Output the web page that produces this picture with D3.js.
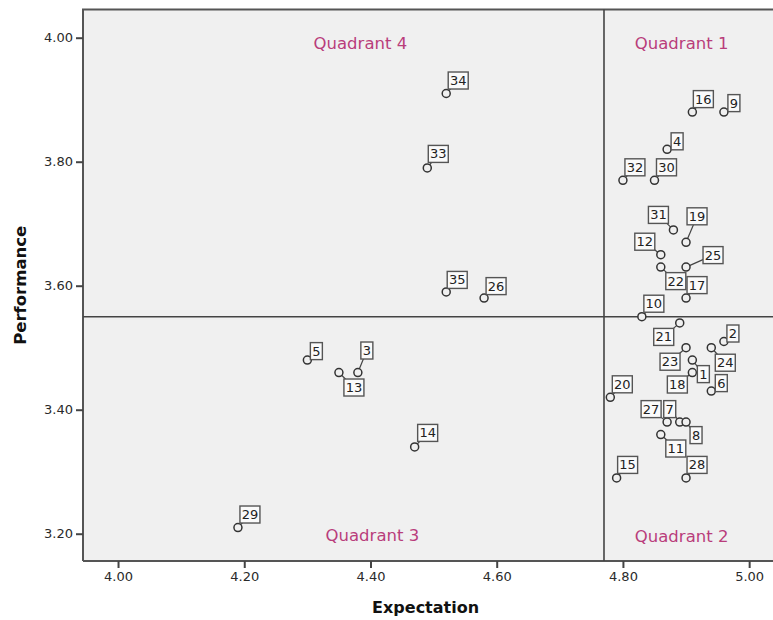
<!DOCTYPE html>
<html>
<head>
<meta charset="utf-8">
<script src="https://cdn.jsdelivr.net/npm/d3@7"></script>
<style>
  body { margin: 0; background: #fff; }
  svg { display: block; }
</style>
</head>
<body>
<svg id="chart" width="773" height="620"></svg>
<script>
// ---- data ----
const ids         = [1, 2, 3, 4, 5, 6, 7, 8, 9, 10, 11, 12, 13, 14, 15, 16, 17, 18, 19, 20, 21, 22, 23, 24, 25, 26, 27, 28, 29, 30, 31, 32, 33, 34, 35];
const expectation = [4.91, 4.96, 4.38, 4.87, 4.30, 4.94, 4.89, 4.90, 4.96, 4.83, 4.86, 4.86, 4.35, 4.47, 4.79, 4.91, 4.90, 4.91, 4.90, 4.78, 4.89, 4.86, 4.90, 4.94, 4.90, 4.58, 4.87, 4.90, 4.19, 4.85, 4.88, 4.80, 4.49, 4.52, 4.52];
const performance = [3.48, 3.51, 3.46, 3.82, 3.48, 3.43, 3.38, 3.38, 3.88, 3.55, 3.36, 3.65, 3.46, 3.34, 3.29, 3.88, 3.58, 3.46, 3.67, 3.42, 3.54, 3.63, 3.50, 3.50, 3.63, 3.58, 3.38, 3.29, 3.21, 3.77, 3.69, 3.77, 3.79, 3.91, 3.59];
// label placement offsets (px, label centre relative to point)
const labelDx = [11, 9, 9, 10, 9, 10, -10, 10, 10, 12, 15, -16, 15, 13, 11, 11, 11, -15, 11, 12, -16, 15, -16, 14, 27, 12, -16, 11, 12, 12, -15, 12, 11, 12, 11];
const labelDy = [14, -8, -22, -8, -9, -8, -13, 13, -9, -13, 14, -13, 15, -14, -13, -13, -13, 12, -26, -13, 14, 14, 14, 15, -12, -12, -13, -13, -13, -13, -15, -13, -14, -13, -12];
const xTicks = [4.00, 4.20, 4.40, 4.60, 4.80, 5.00];
const yTicks = [3.20, 3.40, 3.60, 3.80, 4.00];
const xDomain = [3.9445, 5.04];
const yDomain = [3.156, 4.0455];
const xCut = 4.77;   // mean expectation
const yCut = 3.55;   // mean performance
const quadNames = ["Quadrant 1", "Quadrant 2", "Quadrant 3", "Quadrant 4"];
const quadX = [4.893, 4.893, 4.403, 4.384];
const quadY = [3.991, 3.195, 3.197, 3.991];
const xTitle = "Expectation";
const yTitle = "Performance";

// ---- layout ----
const svg = d3.select("#chart");
const pLeft = 83, pRight = 774.4, pTop = 9.5, pBottom = 561;
const x = d3.scaleLinear().domain(xDomain).range([pLeft, pRight]);
const y = d3.scaleLinear().domain(yDomain).range([pBottom, pTop]);

// plot background
svg.append("rect")
  .attr("x", pLeft).attr("y", pTop)
  .attr("width", 800).attr("height", pBottom - pTop)
  .attr("fill", "#f0f0f0");

// border lines (left, top, bottom)
svg.append("path")
  .attr("d", `M${pLeft},${pBottom}V${pTop}H800M${pLeft},${pBottom}H800`)
  .attr("fill", "none").attr("stroke", "#555").attr("stroke-width", 2);

// axes
const fmt = d3.format(".2f");
const xAxis = svg.append("g")
  .attr("transform", `translate(0,${pBottom})`)
  .call(d3.axisBottom(x).tickValues(xTicks).tickFormat(fmt).tickSize(7).tickPadding(4));
const yAxis = svg.append("g")
  .attr("transform", `translate(${pLeft},0)`)
  .call(d3.axisLeft(y).tickValues(yTicks).tickFormat(fmt).tickSize(7).tickPadding(3));
[xAxis, yAxis].forEach(g => {
  g.select(".domain").remove();
  g.attr("font-size", null).attr("font-family", null);
  g.selectAll(".tick line").attr("stroke", "#444").attr("stroke-width", 2);
  g.selectAll(".tick text")
    .attr("fill", "#2a2a2a")
    .style("font-family", "'DejaVu Sans', sans-serif")
    .style("font-size", "13px");
});

// reference lines
svg.append("line")
  .attr("x1", x(xCut)).attr("x2", x(xCut))
  .attr("y1", pTop).attr("y2", pBottom)
  .attr("stroke", "#444").attr("stroke-width", 1.6);
svg.append("line")
  .attr("x1", pLeft).attr("x2", 800)
  .attr("y1", y(yCut)).attr("y2", y(yCut))
  .attr("stroke", "#444").attr("stroke-width", 1.6);

// quadrant labels
svg.selectAll("text.quad")
  .data(quadNames)
  .join("text")
  .attr("class", "quad")
  .attr("x", (d, i) => x(quadX[i]))
  .attr("y", (d, i) => y(quadY[i]))
  .attr("text-anchor", "middle")
  .attr("dominant-baseline", "central")
  .attr("fill", "#b93d7b")
  .style("font-family", "'DejaVu Sans', sans-serif")
  .style("font-size", "16.5px")
  .text(d => d);

// points
const pts = ids.map((id, i) => ({
  id, ex: expectation[i], pf: performance[i], dx: labelDx[i], dy: labelDy[i]
}));

const g = svg.append("g");
// leader lines
g.selectAll("line.lead")
  .data(pts)
  .join("line")
  .attr("class", "lead")
  .attr("x1", d => x(d.ex)).attr("y1", d => y(d.pf))
  .attr("x2", d => x(d.ex) + d.dx).attr("y2", d => y(d.pf) + d.dy)
  .attr("stroke", "#444").attr("stroke-width", 1.2);

g.selectAll("circle.pt")
  .data(pts)
  .join("circle")
  .attr("class", "pt")
  .attr("cx", d => x(d.ex)).attr("cy", d => y(d.pf))
  .attr("r", 4)
  .attr("fill", "#f0f0f0")
  .attr("stroke", "#333").attr("stroke-width", 1.5);

// label boxes
const lab = g.selectAll("g.lab")
  .data(pts)
  .join("g")
  .attr("class", "lab")
  .attr("transform", d => `translate(${x(d.ex) + d.dx},${y(d.pf) + d.dy})`);
lab.append("rect")
  .attr("x", d => String(d.id).length > 1 ? -10 : -6)
  .attr("y", -8.5)
  .attr("width", d => String(d.id).length > 1 ? 20 : 12)
  .attr("height", 17)
  .attr("fill", "#fafafa")
  .attr("stroke", "#555").attr("stroke-width", 1.4);
lab.append("text")
  .attr("text-anchor", "middle")
  .attr("dominant-baseline", "central")
  .attr("fill", "#222")
  .style("font-family", "'DejaVu Sans', sans-serif")
  .style("font-size", "13px")
  .text(d => d.id);

// axis titles
svg.append("text")
  .attr("x", (x(xTicks[0]) + x(xTicks[xTicks.length - 1])) / 2 - 8)
  .attr("y", 607)
  .attr("text-anchor", "middle")
  .attr("dominant-baseline", "central")
  .attr("fill", "#111")
  .style("font-family", "'DejaVu Sans', sans-serif")
  .style("font-weight", "bold")
  .style("font-size", "16px")
  .text(xTitle);
svg.append("text")
  .attr("transform", `translate(20,${(pTop + pBottom) / 2}) rotate(-90)`)
  .attr("text-anchor", "middle")
  .attr("dominant-baseline", "central")
  .attr("fill", "#111")
  .style("font-family", "'DejaVu Sans', sans-serif")
  .style("font-weight", "bold")
  .style("font-size", "16.5px")
  .text(yTitle);
</script>
</body>
</html>
